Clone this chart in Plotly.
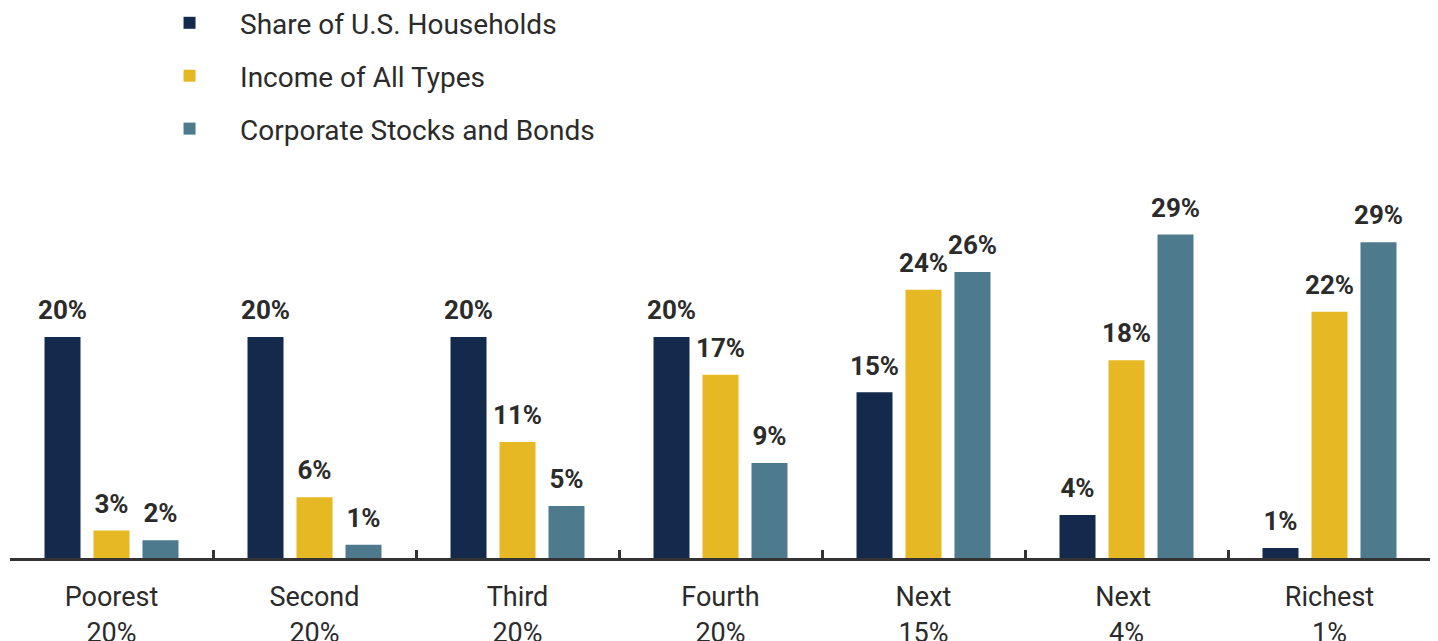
import plotly.graph_objects as go

# ---- data ----
groups = ["Poorest<br>20%", "Second<br>20%", "Third<br>20%", "Fourth<br>20%",
          "Next<br>15%", "Next <br>4%", "Richest<br>1%"]

households = [20, 20, 20, 20, 15, 3.9, 0.9]
households_lbl = [20, 20, 20, 20, 15, 4, 1]

income = [2.5, 5.5, 10.5, 16.6, 24.3, 17.9, 22.3]
income_lbl = [3, 6, 11, 17, 24, 18, 22]

stocks = [1.6, 1.2, 4.7, 8.6, 25.9, 29.3, 28.6]
stocks_lbl = [2, 1, 5, 9, 26, 29, 29]

series = [
    ("Share of U.S. Households", households, households_lbl, "#132a4c"),
    ("Income of All Types", income, income_lbl, "#e6b824"),
    ("Corporate Stocks and Bonds", stocks, stocks_lbl, "#4e7a8e"),
]

LABEL_LIFT = 0.8  # extra space between bar top and its value label (axis units)

fig = go.Figure()
for i, (name, vals, lbls, color) in enumerate(series):
    fig.add_trace(go.Bar(
        x=groups, y=vals, name=name, offsetgroup=str(i), legendgroup=name,
        marker=dict(color=color, line=dict(width=0)),
        hovertemplate="%{y}%<extra>" + name + "</extra>",
    ))
    # transparent spacer carrying the value label a little above the bar
    fig.add_trace(go.Bar(
        x=groups, y=[LABEL_LIFT] * len(vals), base=vals, offsetgroup=str(i),
        legendgroup=name,
        marker=dict(color="rgba(0,0,0,0)", line=dict(width=0)),
        text=[f"{v}%" for v in lbls], textposition="outside",
        constraintext="none", cliponaxis=False, showlegend=False,
        hoverinfo="skip",
        textfont=dict(family="Roboto", size=26, color="#2b2b2b", weight="bold"),
    ))

# page body keeps its default 8px margin, so the figure is 8px smaller
fig.update_layout(
    width=1430, height=633,
    margin=dict(l=2, r=7, t=0, b=83, autoexpand=False),
    plot_bgcolor="white", paper_bgcolor="white",
    font=dict(family="Roboto", color="#2b2b2b"),
    barmode="group", bargap=0.276, bargroupgap=0.265,
    legend=dict(x=0.0908, y=1.018, xanchor="left", yanchor="top",
                font=dict(size=28, color="#2b2b2b"),
                tracegroupgap=13.5, itemwidth=91, bgcolor="rgba(0,0,0,0)"),
    showlegend=True,
)

fig.update_xaxes(
    type="category", tickson="boundaries", ticks="inside", ticklen=8,
    tickwidth=3, tickcolor="#333333", showline=True, linewidth=3,
    linecolor="#333333", showgrid=False, automargin=False,
    tickfont=dict(family="Roboto", size=27, color="#2b2b2b"),
    ticklabelstandoff=13,
)
fig.update_yaxes(range=[0, 49.8], visible=False, showgrid=False,
                 zeroline=False, automargin=False)

fig.write_html("out.html")
